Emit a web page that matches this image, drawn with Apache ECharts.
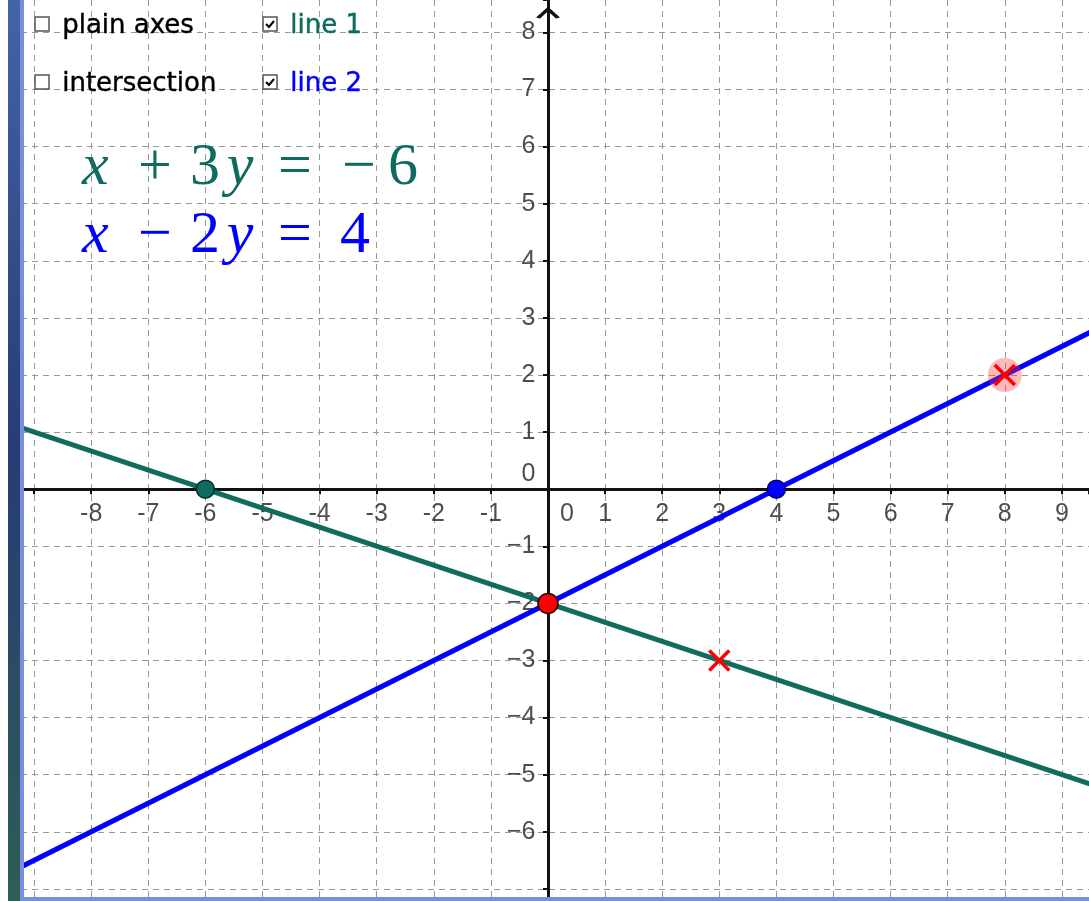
<!DOCTYPE html>
<html>
<head>
<meta charset="utf-8">
<script src="https://cdn.jsdelivr.net/npm/echarts@6/dist/echarts.min.js"></script>
<style>
  html, body { margin: 0; padding: 0; background: #fff; }
  #main { width: 1089px; height: 901px; }
</style>
</head>
<body>
<div id="main"></div>
<script>
// line endpoints (x + 3y = -6 and x - 2y = 4)
const line1 = [[-10, 1.333], [10, -5.333]]
const line2 = [[-10, -7], [10, 3]]
// marked points
const line1Dots = [[-6, 0]]
const line2Dots = [[4, 0]]
const meetDots = [[0, -2]]
const crossMarks = [[3, -3], [8, 2]]
const haloMarks = [[8, 2]]
const arrowTip = [[0, 8.33]]
// axis limits and labelled ticks
const xMin = -10, xMax = 9.475
const yMin = -8, yMax = 8.567
const xLabelled = [-8, -7, -6, -5, -4, -3, -2, -1, 0, 1, 2, 3, 4, 5, 6, 7, 8, 9]
const yLabelled = [-6, -5, -4, -3, -2, -1, 0, 1, 2, 3, 4, 5, 6, 7, 8]
const equations = [
  ['x', '+', '3', 'y', '=', '\u2212', '6'],
  ['x', '\u2212', '2', 'y', '=', '', '4']
]
const checkboxes = [
  {text: 'plain axes', checked: false, color: '#000'},
  {text: 'line 1', checked: true, color: '#0f6b5f'},
  {text: 'intersection', checked: false, color: '#000'},
  {text: 'line 2', checked: true, color: '#0000ff'}
]

const teal = '#0f6b5f'
const blue = '#0000ff'
const red = '#ff0000'
const crossPath = 'path://M0,0 L10,10 M10,0 L0,10'
const labelFont = {fontFamily: 'Liberation Sans', fontSize: 25, color: '#222'}

let myChart = echarts.init(document.getElementById('main'), null, {renderer: 'canvas'})

let gridLine = {show: true, showMinLine: false, showMaxLine: false, lineStyle: {color: '#999', width: 1, type: [6, 5]}}

// graphic pieces: frame, equations, checkboxes
let graphics = [
  {type: 'rect', z: 100, shape: {x: 0, y: 0, width: 8, height: 901}, style: {fill: '#fff'}},
  {
    type: 'rect', z: 100, shape: {x: 8, y: 0, width: 13, height: 901},
    style: {
      fill: new echarts.graphic.LinearGradient(0, 0, 0, 1, [
        {offset: 0, color: '#4364a6'},
        {offset: 0.5, color: '#263c74'},
        {offset: 1, color: '#2e5d55'}
      ])
    }
  },
  {type: 'rect', z: 100, shape: {x: 20, y: 0, width: 4, height: 901}, style: {fill: '#7a8ede'}},
  {type: 'rect', z: 100, shape: {x: 20, y: 897, width: 1069, height: 4}, style: {fill: '#7a8ede'}}
]

equations.forEach((eq, i) => {
  let c = i === 0 ? teal : blue
  let base = {fontFamily: 'Liberation Serif', fontSize: 60, fill: c}
  graphics.push({
    type: 'text', z: 50, left: 82, top: 138 + i * 68,
    style: {
      text: '{v|' + eq[0] + '}{o|' + eq[1] + '}{d|' + eq[2] + '}{v2|' + eq[3] + '}{o|' + eq[4] + '}' +
        (eq[5] ? '{m|' + eq[5] + '}{d|' + eq[6] + '}' : '{d4|' + eq[6] + '}'),
      fill: c,
      rich: {
        v: Object.assign({}, base, {fontStyle: 'italic', width: 38, align: 'left'}),
        v2: Object.assign({}, base, {fontStyle: 'italic', width: 40, align: 'left'}),
        o: Object.assign({}, base, {width: 70, align: 'center'}),
        d: Object.assign({}, base, {width: 30, align: 'left'}),
        d4: Object.assign({}, base, {width: 40, align: 'right'}),
        m: Object.assign({}, base, {width: 58, align: 'right'})
      }
    }
  })
})

checkboxes.forEach((cb, i) => {
  let bx = i % 2 === 0 ? 35 : 263
  let by = i < 2 ? 17 : 75
  graphics.push({type: 'rect', z: 50, shape: {x: bx, y: by, width: 14, height: 14}, style: {fill: '#fff', stroke: '#555', lineWidth: 1.5}})
  if (cb.checked) {
    graphics.push({type: 'polyline', z: 51, shape: {points: [[bx + 3, by + 7], [bx + 6, by + 10], [bx + 11, by + 4]]}, style: {stroke: '#000', lineWidth: 2, fill: null}})
  }
  graphics.push({
    type: 'text', z: 50, left: bx + 27, top: by - 4,
    style: {text: cb.text, fill: cb.color, fontFamily: 'DejaVu Sans', fontSize: 26, stroke: cb.color, lineWidth: 0.4}
  })
})

let axisBase = {
  type: 'value', interval: 1,
  axisLine: {onZero: true, lineStyle: {color: '#111', width: 3}},
  axisTick: {show: true, length: 5, lineStyle: {color: '#111', width: 2}},
  axisLabel: {show: false},
  splitLine: gridLine
}

let option = {
  animation: false,
  backgroundColor: '#fff',
  grid: {left: -23, right: 0, top: 0, bottom: -45, containLabel: false, outerBoundsMode: 'none'},
  xAxis: Object.assign({}, axisBase, {min: xMin, max: xMax}),
  yAxis: Object.assign({}, axisBase, {min: yMin, max: yMax}),
  graphic: graphics,
  series: [
    // tick labels, placed through the axes at y = 0 / x = 0
    {
      type: 'scatter', z: 1, silent: true, symbol: 'circle', symbolSize: 1,
      itemStyle: {color: 'rgba(0,0,0,0)'},
      data: xLabelled.map(v => [v, 0]),
      label: Object.assign({
        show: true, position: 'bottom', distance: 12,
        formatter: p => String(p.value[0])
      }, labelFont),
      labelLayout: p => p.dataIndex === xLabelled.indexOf(0) ? {dx: 19} : {}
    },
    {
      type: 'scatter', z: 1, silent: true, symbol: 'circle', symbolSize: 1,
      itemStyle: {color: 'rgba(0,0,0,0)'},
      data: yLabelled.map(v => [0, v]),
      label: Object.assign({
        show: true, position: 'left', distance: 12,
        formatter: p => p.value[1] < 0 ? '\u2212' + Math.abs(p.value[1]) : String(p.value[1])
      }, labelFont),
      labelLayout: p => p.dataIndex === yLabelled.indexOf(0) ? {dy: -15} : {}
    },
    {type: 'line', data: line1, symbol: 'none', z: 3, lineStyle: {color: teal, width: 5}},
    {type: 'line', data: line2, symbol: 'none', z: 3, lineStyle: {color: blue, width: 5}},
    {type: 'scatter', data: haloMarks, symbol: 'circle', symbolSize: 34, z: 4, itemStyle: {color: 'rgba(255,50,50,0.42)'}},
    {type: 'scatter', data: line1Dots, symbol: 'circle', symbolSize: 18, z: 5, itemStyle: {color: teal, borderColor: '#0a2a26', borderWidth: 1.5, opacity: 1}},
    {type: 'scatter', data: line2Dots, symbol: 'circle', symbolSize: 18, z: 5, itemStyle: {color: blue, borderColor: '#000066', borderWidth: 1.5, opacity: 1}},
    {type: 'scatter', data: meetDots, symbol: 'circle', symbolSize: 20, z: 5, itemStyle: {color: red, borderColor: '#220000', borderWidth: 1.5, opacity: 1}},
    {type: 'scatter', data: crossMarks, symbol: crossPath, symbolSize: 20, z: 6, itemStyle: {color: 'rgba(0,0,0,0)', borderColor: red, borderWidth: 3.5, opacity: 1}},
    {type: 'scatter', data: arrowTip, symbol: 'path://M0,9 L11,0 L22,9', symbolSize: [20, 9], z: 6, itemStyle: {color: 'rgba(0,0,0,0)', borderColor: '#111', borderWidth: 3, opacity: 1}}
  ]
}
option && myChart.setOption(option)
</script>
</body>
</html>
